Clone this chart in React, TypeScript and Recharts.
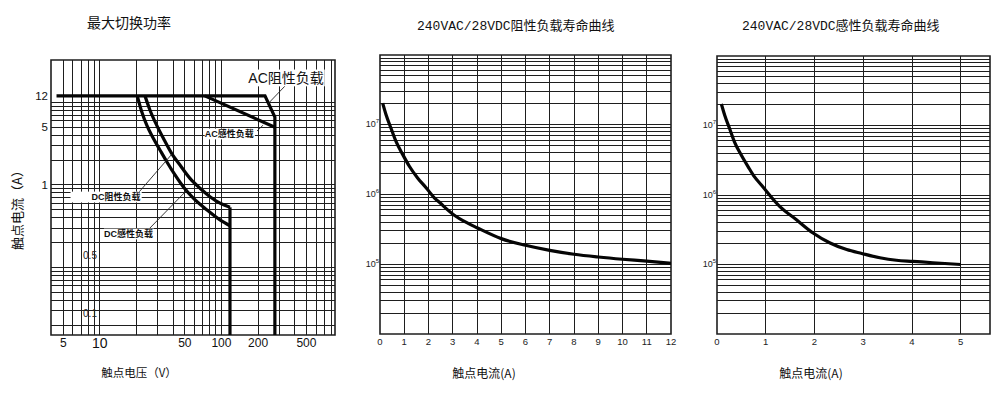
import React from 'react';
import { LineChart, Line, XAxis, YAxis, ReferenceLine, ReferenceArea, ReferenceDot } from 'recharts';

const CJK = '"Noto Sans CJK SC", sans-serif';
const SANS = '"Liberation Sans", Arial, "Noto Sans CJK SC", sans-serif';
const MONO = '"Liberation Mono", "Noto Sans CJK SC", monospace';

// ---------------- Panel 1: 最大切换功率 ----------------
const p1Title = '最大切换功率';
const p1XLabel = '触点电压（V）';
const p1YLabel = '触点电流（A）';
const p1XTicks = [5, 10, 50, 100, 200, 500];
const p1YTicks = [12, 5, 1, 0.5, 0.1];
const p1XDomain: [number, number] = [3.963, 858.6];
const p1YDomain: [number, number] = [0.01516, 32.66];
const p1XGrid = [5, 6, 7, 8, 9, 10, 20, 30, 40, 50, 60, 70, 80, 90, 100, 200, 300, 400, 500, 600, 700, 800];
const p1YGrid = [0.02, 0.03, 0.04, 0.05, 0.06, 0.07, 0.08, 0.09, 0.1, 0.2, 0.3, 0.4, 0.5, 0.6, 0.7, 0.8, 0.9, 1, 2, 3, 4, 5, 6, 7, 8, 9, 10];

const acResistiveV = [4.4, 228, 275, 275];
const acResistiveA = [12, 12, 6.65, 0.01516];
const acInductiveV = [73, 275];
const acInductiveA = [12, 5];
const dcResistiveV = [23.5, 25.8, 29.3, 33.2, 39, 45.6, 55.1, 66.6, 80.5, 97.3, 117.5];
const dcResistiveA = [12, 8.1, 5.3, 3.7, 2.4, 1.74, 1.2, 0.91, 0.72, 0.6, 0.535];
const dcInductiveV = [20.3, 22.1, 24.3, 27.5, 31.2, 35.5, 41.5, 48.5, 58.7, 75.6, 97.3, 117.5];
const dcInductiveA = [12, 7.7, 5.3, 3.67, 2.65, 1.91, 1.32, 0.95, 0.69, 0.5, 0.376, 0.32];
const dcLimitV = [117.5, 117.5];
const dcLimitA = [0.535, 0.01516];

const p1Notes = [
  { text: 'AC阻性负载', x: 340, y: 19.8 },
  { text: 'AC感性负载', x: 116, y: 4.14 },
  { text: 'DC阻性负载', x: 13.6, y: 0.713 },
  { text: 'DC感性负载', x: 17.2, y: 0.254 },
];
const p1Leaders = [
  [{ x: 333, y: 15.8 }, { x: 241, y: 9.6 }],
  [{ x: 196, y: 4.5 }, { x: 220, y: 5.3 }],
  [{ x: 21, y: 0.82 }, { x: 39.2, y: 2.37 }],
  [{ x: 25.8, y: 0.3 }, { x: 52.1, y: 0.867 }],
];

// ---------------- Panel 2: 阻性负载寿命 ----------------
const p2Title = '240VAC/28VDC阻性负载寿命曲线';
const p2XLabel = '触点电流(A)';
const p2XTicks = [0, 1, 2, 3, 4, 5, 6, 7, 8, 9, 10, 11, 12];
const p2XDomain: [number, number] = [0, 12];
const lifeYDomain: [number, number] = [1e4, 1e8];
const lifeYTicks = [1e5, 1e6, 1e7];
const lifeYGrid = [
  2e4, 3e4, 4e4, 5e4, 6e4, 7e4, 8e4, 9e4, 1e5,
  2e5, 3e5, 4e5, 5e5, 6e5, 7e5, 8e5, 9e5, 1e6,
  2e6, 3e6, 4e6, 5e6, 6e6, 7e6, 8e6, 9e6, 1e7,
  2e7, 3e7, 4e7, 5e7, 6e7, 7e7, 8e7, 9e7,
];
const p2CurrentA = [0.11, 0.25, 0.45, 0.66, 0.94, 1.21, 1.55, 1.9, 2.24, 2.47, 3.02, 3.58, 4, 5, 6, 7, 8, 9, 10, 11, 12];
const p2Cycles = [2.04e7, 1.39e7, 8.97e6, 5.77e6, 3.73e6, 2.54e6, 1.73e6, 1.25e6, 8.97e5, 7.6e5, 5.18e5, 3.94e5, 3.34e5, 2.33e5, 1.87e5, 1.58e5, 1.39e5, 1.27e5, 1.18e5, 1.11e5, 1.03e5];

// ---------------- Panel 3: 感性负载寿命 ----------------
const p3Title = '240VAC/28VDC感性负载寿命曲线';
const p3XLabel = '触点电流(A)';
const p3XTicks = [0, 1, 2, 3, 4, 5];
const p3XDomain: [number, number] = [0, 5.6];
const p3CurrentA = [0.09, 0.16, 0.26, 0.36, 0.5, 0.64, 0.77, 0.91, 1.29, 1.63, 1.97, 2.32, 2.66, 2.97, 3.34, 3.68, 4.02, 4.43, 5];
const p3Cycles = [2.04e7, 1.39e7, 8.97e6, 5.77e6, 3.73e6, 2.54e6, 1.82e6, 1.39e6, 6.8e5, 4.4e5, 2.84e5, 2.04e5, 1.64e5, 1.44e5, 1.25e5, 1.15e5, 1.11e5, 1.06e5, 1.0e5];

const zip = (xs: number[], ys: number[]) => xs.map((x, i) => ({ x, y: ys[i] }));

const GRID = '#1e1e1e';
const INK = '#050505';

const P1XTick = ({ x, y, payload }: any) => {
  const big = payload.value === 10;
  return (
    <text x={x} y={y} dy={big ? 11 : 10} textAnchor="middle" fontSize={big ? 14 : 12} fontFamily={SANS} fill="#111">
      {payload.value}
    </text>
  );
};

const P1YTick = ({ x, y, payload }: any) => {
  if (payload.value < 1) {
    return (
      <text x={x + 42} y={y + 46} dy="0.35em" textAnchor="middle" fontSize={10} fontFamily={SANS} fill="#222">
        {payload.value}
      </text>
    );
  }
  return (
    <text x={x} y={y} dy="0.35em" textAnchor="end" fontSize={11.5} fontFamily={SANS} fill="#111">
      {payload.value}
    </text>
  );
};

const SmallXTick = ({ x, y, payload }: any) => (
  <text x={x} y={y} dy={8.5} textAnchor="middle" fontSize={9.5} fontFamily={SANS} fill="#222">
    {payload.value}
  </text>
);

const ExpTick = ({ x, y, payload }: any) => {
  const e = Math.round(Math.log10(payload.value));
  return (
    <text x={x} y={y} textAnchor="end" fontFamily={SANS} fill="#222" fontSize={9}>
      <tspan dy={2.5}>10</tspan>
      <tspan dy={-4} fontSize={6}>{e}</tspan>
    </text>
  );
};

const textWidth = (t: string, size: number) => {
  let w = 0;
  for (const ch of t) w += ch.charCodeAt(0) > 255 ? size : size * 0.62;
  return w;
};

const noteStyle: Record<string, { size: number; padL: number; bold: boolean }> = {
  'AC阻性负载': { size: 14, padL: 2, bold: false },
  'AC感性负载': { size: 9, padL: 1, bold: true },
  'DC阻性负载': { size: 9, padL: 22, bold: true },
  'DC感性负载': { size: 9, padL: 1, bold: true },
};

const NoteShape = (props: any) => {
  const { cx, cy, text } = props;
  const st = noteStyle[text];
  const w = textWidth(text, st.size);
  return (
    <g>
      <rect x={cx - w / 2 - st.padL} y={cy - st.size * 0.6} width={w + st.padL + 2} height={st.size * 1.2} fill="#fff" />
      <text x={cx} y={cy} dy="0.36em" textAnchor="middle" fontSize={st.size} fontFamily={SANS} fontWeight={st.bold ? 600 : 400} fill="#111">
        {text}
      </text>
    </g>
  );
};

const abs = (left: number, top: number, extra: React.CSSProperties = {}): React.CSSProperties => ({
  position: 'absolute', left, top, lineHeight: 1, whiteSpace: 'nowrap', color: '#111', ...extra,
});

const gridProps = { stroke: GRID, strokeWidth: 1, shapeRendering: 'crispEdges', zIndex: -100 } as any;

const LifePanel = ({ width, margin, xDomain, xTicks, data }: any) => (
  <LineChart width={width} height={399} margin={margin}>
    <XAxis type="number" dataKey="x" domain={xDomain} ticks={xTicks} interval={0} allowDataOverflow
      tick={<SmallXTick />} tickLine={false} axisLine={false} tickSize={0} tickMargin={2} height={30} />
    <YAxis type="number" dataKey="y" scale="log" domain={lifeYDomain} ticks={lifeYTicks} interval={0} allowDataOverflow
      tick={<ExpTick />} tickLine={false} axisLine={false} tickSize={0} tickMargin={1} width={30} />
    {xTicks.filter((v: number) => v > xDomain[0] && v < xDomain[1]).map((v: number) => (
      <ReferenceLine key={'vx' + v} x={v} {...gridProps} />
    ))}
    {lifeYGrid.map((v) => (
      <ReferenceLine key={'hy' + v} y={v} {...gridProps} />
    ))}
    <ReferenceArea x1={xDomain[0]} x2={xDomain[1]} y1={lifeYDomain[0]} y2={lifeYDomain[1]} fill="none" fillOpacity={0}
      stroke={GRID} strokeWidth={1.6} ifOverflow="visible" zIndex={-90} />
    <Line data={data} dataKey="y" type="monotone" stroke={INK} strokeWidth={3.2} dot={false} isAnimationActive={false} />
  </LineChart>
);

export default function App() {
  const p2Data = zip(p2CurrentA, p2Cycles);
  const p3Data = zip(p3CurrentA, p3Cycles);
  return (
    <div style={{ position: 'absolute', left: 0, top: 0, width: 1000, height: 399, background: '#fff', overflow: 'hidden' }}>
      {/* Panel 1 */}
      <div style={{ position: 'absolute', left: 0, top: 0 }}>
        <LineChart width={345} height={399} margin={{ left: 11, right: 10, top: 60, bottom: 34 }}>
          <XAxis type="number" dataKey="x" scale="log" domain={p1XDomain} ticks={p1XTicks} interval={0} allowDataOverflow
            tick={<P1XTick />} tickLine={false} axisLine={false} tickSize={0} tickMargin={2} height={30} />
          <YAxis type="number" dataKey="y" scale="log" domain={p1YDomain} ticks={p1YTicks} interval={0} allowDataOverflow
            tick={<P1YTick />} tickLine={false} axisLine={false} tickSize={0} tickMargin={3} width={40} />
          {p1XGrid.map((v) => (
            <ReferenceLine key={'gx' + v} x={v} {...gridProps} />
          ))}
          {p1YGrid.map((v) => (
            <ReferenceLine key={'gy' + v} y={v} {...gridProps} />
          ))}
          <ReferenceArea x1={p1XDomain[0]} x2={p1XDomain[1]} y1={p1YDomain[0]} y2={p1YDomain[1]} fill="none" fillOpacity={0}
            stroke={GRID} strokeWidth={1.6} ifOverflow="visible" zIndex={-90} />
          <Line data={zip(acResistiveV, acResistiveA)} dataKey="y" type="linear" stroke={INK} strokeWidth={3.2} dot={false} isAnimationActive={false} name="AC阻性负载" />
          <Line data={zip(acInductiveV, acInductiveA)} dataKey="y" type="linear" stroke={INK} strokeWidth={3.2} dot={false} isAnimationActive={false} name="AC感性负载" />
          <Line data={zip(dcResistiveV, dcResistiveA)} dataKey="y" type="monotone" stroke={INK} strokeWidth={3.2} dot={false} isAnimationActive={false} name="DC阻性负载" />
          <Line data={zip(dcInductiveV, dcInductiveA)} dataKey="y" type="monotone" stroke={INK} strokeWidth={3.2} dot={false} isAnimationActive={false} name="DC感性负载" />
          <Line data={zip(dcLimitV, dcLimitA)} dataKey="y" type="linear" stroke={INK} strokeWidth={3.2} dot={false} isAnimationActive={false} name="DC限值" />
          {p1Leaders.map((seg, i) => (
            <ReferenceLine key={'ld' + i} segment={seg as any} stroke="#222" strokeWidth={0.9} ifOverflow="visible" zIndex={700} />
          ))}
          {p1Notes.map((n) => (
            <ReferenceDot key={n.text} x={n.x} y={n.y} r={0} ifOverflow="visible" zIndex={800}
              shape={(p: any) => <NoteShape {...p} text={n.text} />} />
          ))}
        </LineChart>
      </div>

      {/* Panel 2 */}
      <div style={{ position: 'absolute', left: 340, top: 0 }}>
        <LifePanel width={340} margin={{ left: 10, right: 9, top: 55, bottom: 35 }} xDomain={p2XDomain} xTicks={p2XTicks} data={p2Data} />
      </div>

      {/* Panel 3 */}
      <div style={{ position: 'absolute', left: 680, top: 0 }}>
        <LifePanel width={320} margin={{ left: 7, right: 10, top: 56, bottom: 35 }} xDomain={p3XDomain} xTicks={p3XTicks} data={p3Data} />
      </div>

      {/* Titles */}
      <div style={abs(87, 15, { fontSize: 14, fontFamily: CJK })}>{p1Title}</div>
      <div style={abs(417, 20, { fontSize: 13, fontFamily: MONO })}>{p2Title}</div>
      <div style={abs(742, 20, { fontSize: 13, fontFamily: MONO })}>{p3Title}</div>

      {/* Axis titles */}
      <div style={abs(16, 207, { fontSize: 13, fontFamily: CJK, transform: 'translate(-50%, -50%) rotate(-90deg)' })}>{p1YLabel}</div>
      <div style={abs(139, 373, { fontSize: 11.5, fontFamily: CJK, transform: 'translate(-50%, -50%)' })}>{p1XLabel}</div>
      <div style={abs(484, 373, { fontSize: 12, fontFamily: CJK, transform: 'translate(-50%, -50%)' })}>{p2XLabel}</div>
      <div style={abs(811, 373, { fontSize: 12, fontFamily: CJK, transform: 'translate(-50%, -50%)' })}>{p3XLabel}</div>
    </div>
  );
}
